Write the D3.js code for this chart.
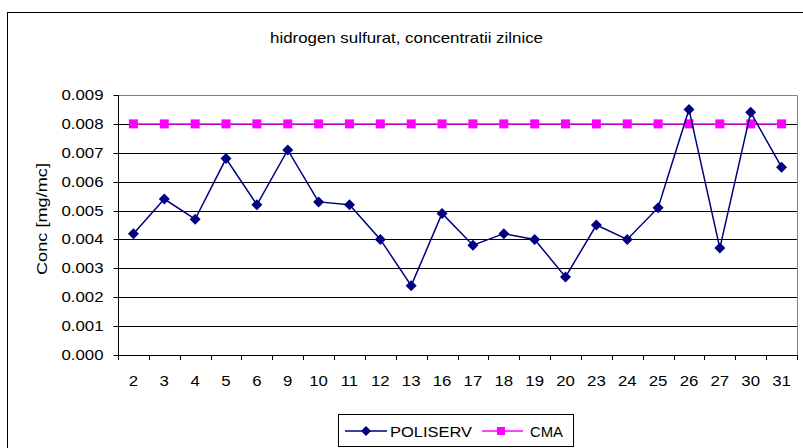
<!DOCTYPE html>
<html><head><meta charset="utf-8">
<script src="https://cdn.jsdelivr.net/npm/d3@7"></script>
<style>body{margin:0;background:#fff}svg{display:block;font-family:"Liberation Sans",Arial,sans-serif}</style>
</head><body>
<svg id="c" width="803" height="448"></svg>
<script>
const categories = ["2","3","4","5","6","9","10","11","12","13","16","17","18","19","20","23","24","25","26","27","30","31"];
const poliserv = [0.0042,0.0054,0.0047,0.0068,0.0052,0.0071,0.0053,0.0052,0.0040,0.0024,0.0049,0.0038,0.0042,0.0040,0.0027,0.0045,0.0040,0.0051,0.0085,0.0037,0.0084,0.0065];
const cma = [0.008,0.008,0.008,0.008,0.008,0.008,0.008,0.008,0.008,0.008,0.008,0.008,0.008,0.008,0.008,0.008,0.008,0.008,0.008,0.008,0.008,0.008];
const yTicks = [0,0.001,0.002,0.003,0.004,0.005,0.006,0.007,0.008,0.009];
const title = "hidrogen sulfurat, concentratii zilnice";
const yLabel = "Conc [mg/mc]";
const seriesNames = ["POLISERV","CMA"];

const FS = 15;
const svg = d3.select("#c");
const L=118, R=797, T=95, B=355;
svg.append("rect").attr("x",7.5).attr("y",12.5).attr("width",900).attr("height",900).attr("fill","#fff").attr("stroke","#000").attr("stroke-width",1);

const x = d3.scaleBand().domain(categories).range([L,R]);
const y = d3.scaleLinear().domain([0,0.009]).range([B,T]);

function widen(sel, f){ sel.each(function(){ const w=this.getComputedTextLength(); d3.select(this).attr("textLength",w*f).attr("lengthAdjust","spacingAndGlyphs"); }); }

// grid
svg.append("g").selectAll("line").data(yTicks.slice(1,-1)).join("line")
  .attr("x1",L).attr("x2",R).attr("y1",d=>Math.round(y(d))+0.5).attr("y2",d=>Math.round(y(d))+0.5)
  .attr("stroke","#000").attr("stroke-width",1);
svg.append("path").attr("d",`M${L},${T+0.5}H${R+0.5}V${B}`).attr("fill","none").attr("stroke","#808080").attr("stroke-width",1);

// y axis
const ya = svg.append("g").attr("transform",`translate(${L+0.5},0)`)
  .call(d3.axisLeft(y).tickValues(yTicks).tickFormat(d3.format(".3f")).tickSize(5).tickPadding(10));
ya.select(".domain").attr("stroke","#000").attr("d",`M0,${T}V${B}`);
ya.selectAll(".tick line").attr("stroke","#000");
ya.selectAll("text").attr("font-size",FS).attr("fill","#000").attr("font-family","Liberation Sans, Arial, sans-serif");
ya.selectAll(".tick").attr("transform",d=>`translate(0,${Math.round(y(d))+0.5})`);
widen(ya.selectAll("text"),1.12);

// x axis
const xa = svg.append("g").attr("transform",`translate(0,${B+0.5})`)
  .call(d3.axisBottom(x).tickSize(0).tickPadding(20));
xa.select(".domain").attr("stroke","#000").attr("d",`M${L},0H${R}`);
xa.selectAll("text").attr("font-size",FS).attr("fill","#000").attr("font-family","Liberation Sans, Arial, sans-serif");
widen(xa.selectAll("text"),1.12);
svg.append("g").selectAll("line").data(categories.concat(["end"])).join("line")
  .attr("x1",(d,i)=>Math.round(L+i*x.step())+0.5).attr("x2",(d,i)=>Math.round(L+i*x.step())+0.5)
  .attr("y1",B).attr("y2",B+5).attr("stroke","#000");

const cx = d=>x(d)+x.bandwidth()/2;
const line = d3.line().x((d,i)=>cx(categories[i])).y(d=>y(d));

svg.append("path").datum(cma).attr("d",line).attr("fill","none").attr("stroke","#FF00FF").attr("stroke-width",1.5);
svg.append("g").selectAll("rect").data(cma).join("rect")
  .attr("x",(d,i)=>cx(categories[i])-4.5).attr("y",d=>y(d)-4.5).attr("width",9).attr("height",9).attr("fill","#FF00FF");

svg.append("path").datum(poliserv).attr("d",line).attr("fill","none").attr("stroke","#000080").attr("stroke-width",1.5);
const diamond = "M0,-5.5L5.5,0L0,5.5L-5.5,0Z";
svg.append("g").selectAll("path").data(poliserv).join("path")
  .attr("transform",(d,i)=>`translate(${cx(categories[i])},${y(d)})`).attr("d",diamond).attr("fill","#000080");

// title
const tt = svg.append("text").attr("x",270).attr("y",43).attr("font-size",FS).text(title);
widen(tt,1.125);
// y label
svg.append("text").attr("transform","translate(47,219) rotate(-90)").attr("text-anchor","middle").attr("font-size",FS)
  .attr("textLength",112).attr("lengthAdjust","spacingAndGlyphs").text(yLabel);

// legend
svg.append("rect").attr("x",338.5).attr("y",414.5).attr("width",235).attr("height",32).attr("fill","#fff").attr("stroke","#000");
const ly=431;
svg.append("line").attr("x1",345).attr("x2",387).attr("y1",ly).attr("y2",ly).attr("stroke","#000080").attr("stroke-width",1.5);
svg.append("path").attr("transform",`translate(366,${ly})`).attr("d","M0,-5L5,0L0,5L-5,0Z").attr("fill","#000080");
const lt1 = svg.append("text").attr("x",390).attr("y",ly+5.5).attr("font-size",FS).text(seriesNames[0]);
lt1.attr("textLength",82).attr("lengthAdjust","spacingAndGlyphs");
svg.append("line").attr("x1",482).attr("x2",523).attr("y1",ly).attr("y2",ly).attr("stroke","#FF00FF").attr("stroke-width",1.5);
svg.append("rect").attr("x",497).attr("y",ly-4).attr("width",8).attr("height",8).attr("fill","#FF00FF");
svg.append("text").attr("x",530).attr("y",ly+5.5).attr("font-size",FS).attr("textLength",33).attr("lengthAdjust","spacingAndGlyphs").text(seriesNames[1]);
</script>
</body></html>
